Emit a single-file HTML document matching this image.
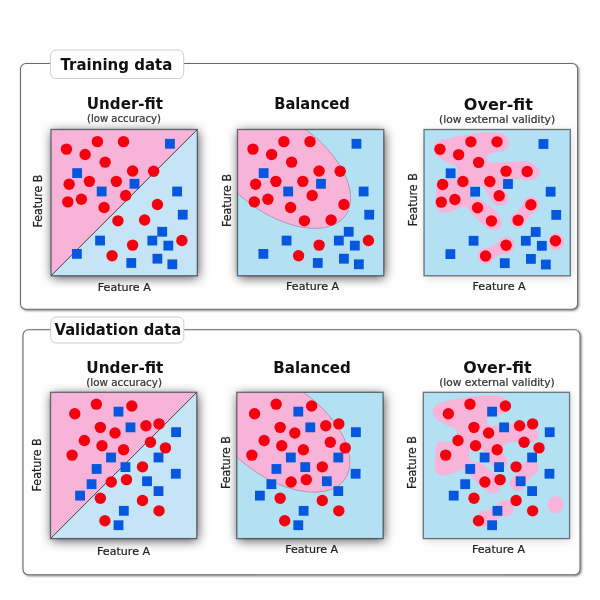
<!DOCTYPE html>
<html><head><meta charset="utf-8"><title>Under-fit, balanced, over-fit</title>
<style>
html,body{margin:0;padding:0;background:#fefefe;}
body{width:600px;height:600px;overflow:hidden;}
svg{display:block;font-family:'DejaVu Sans','Liberation Sans',sans-serif;filter:blur(0.45px);}
</style></head><body>
<svg width="600" height="600" viewBox="0 0 600 600">
<defs>
<filter id="sh" x="-30%" y="-30%" width="160%" height="160%"><feGaussianBlur in="SourceAlpha" stdDeviation="5.5"/><feOffset dx="0.5" dy="2"/><feComponentTransfer><feFuncA type="linear" slope="0.7"/></feComponentTransfer></filter>
<filter id="sh3" x="-30%" y="-30%" width="160%" height="160%"><feGaussianBlur in="SourceAlpha" stdDeviation="4.5"/><feOffset dx="0.5" dy="2"/><feComponentTransfer><feFuncA type="linear" slope="0.16"/></feComponentTransfer></filter>
<filter id="sh2" x="-5%" y="-5%" width="110%" height="110%"><feGaussianBlur in="SourceAlpha" stdDeviation="0.8"/><feOffset dx="0.8" dy="1"/><feComponentTransfer><feFuncA type="linear" slope="0.5"/></feComponentTransfer><feMerge><feMergeNode/><feMergeNode in="SourceGraphic"/></feMerge></filter>
<clipPath id="clipbox"><rect x="0" y="0" width="146.3" height="146.3"/></clipPath>
</defs>
<rect width="600" height="600" fill="#fefefe"/>
<rect x="20.5" y="63.5" width="557.1" height="245.7" rx="5.5" fill="#fefefe" stroke="#6a6a6a" stroke-width="1.1" filter="url(#sh2)"/>
<rect x="50.5" y="50" width="133.2" height="28.5" rx="5.5" fill="#fefefe" stroke="#cfcfcf" stroke-width="1"/>
<text x="116.4" y="70" font-size="15" font-weight="bold" text-anchor="middle" fill="#111" textLength="111.80000000000001" lengthAdjust="spacingAndGlyphs">Training data</text>
<g transform="translate(51,129.5)">
<rect x="0" y="0" width="146.3" height="146.3" fill="#c5e4f6" filter="url(#sh)"/>
<g clip-path="url(#clipbox)">
<rect x="0" y="0" width="146.3" height="146.3" fill="#c5e4f6"/>
<polygon points="0,0 146.3,0 0,146.3" fill="#f8b3d8"/>
<line x1="0" y1="146.3" x2="146.3" y2="0" stroke="#444" stroke-width="1"/>
<rect x="114.03" y="9.37" width="9.8" height="9.8" fill="#0557de"/>
<rect x="21.23" y="38.70" width="9.8" height="9.8" fill="#0557de"/>
<rect x="78.57" y="49.37" width="9.8" height="9.8" fill="#0557de"/>
<rect x="45.77" y="57.10" width="9.8" height="9.8" fill="#0557de"/>
<rect x="121.23" y="57.10" width="9.8" height="9.8" fill="#0557de"/>
<rect x="126.83" y="80.30" width="9.8" height="9.8" fill="#0557de"/>
<rect x="106.30" y="97.37" width="9.8" height="9.8" fill="#0557de"/>
<rect x="96.43" y="106.17" width="9.8" height="9.8" fill="#0557de"/>
<rect x="112.43" y="111.23" width="9.8" height="9.8" fill="#0557de"/>
<rect x="44.17" y="106.17" width="9.8" height="9.8" fill="#0557de"/>
<rect x="20.97" y="119.50" width="9.8" height="9.8" fill="#0557de"/>
<rect x="75.37" y="128.57" width="9.8" height="9.8" fill="#0557de"/>
<rect x="101.50" y="124.30" width="9.8" height="9.8" fill="#0557de"/>
<rect x="116.43" y="129.90" width="9.8" height="9.8" fill="#0557de"/>
<circle cx="15.47" cy="19.60" r="5.7" fill="#f5000f"/>
<circle cx="34.13" cy="24.93" r="5.7" fill="#f5000f"/>
<circle cx="46.40" cy="12.13" r="5.7" fill="#f5000f"/>
<circle cx="72.53" cy="12.13" r="5.7" fill="#f5000f"/>
<circle cx="54.13" cy="32.67" r="5.7" fill="#f5000f"/>
<circle cx="81.60" cy="41.47" r="5.7" fill="#f5000f"/>
<circle cx="102.67" cy="41.73" r="5.7" fill="#f5000f"/>
<circle cx="18.13" cy="54.80" r="5.7" fill="#f5000f"/>
<circle cx="38.40" cy="51.87" r="5.7" fill="#f5000f"/>
<circle cx="65.33" cy="51.87" r="5.7" fill="#f5000f"/>
<circle cx="74.67" cy="66.00" r="5.7" fill="#f5000f"/>
<circle cx="16.80" cy="72.40" r="5.7" fill="#f5000f"/>
<circle cx="30.40" cy="69.73" r="5.7" fill="#f5000f"/>
<circle cx="53.07" cy="78.00" r="5.7" fill="#f5000f"/>
<circle cx="106.40" cy="75.07" r="5.7" fill="#f5000f"/>
<circle cx="66.93" cy="91.33" r="5.7" fill="#f5000f"/>
<circle cx="93.60" cy="90.53" r="5.7" fill="#f5000f"/>
<circle cx="81.60" cy="115.60" r="5.7" fill="#f5000f"/>
<circle cx="61.07" cy="126.27" r="5.7" fill="#f5000f"/>
<circle cx="130.93" cy="111.07" r="5.7" fill="#f5000f"/>
</g>
<rect x="0" y="0" width="146.3" height="146.3" fill="none" stroke="#1e2a30" stroke-opacity="0.62" stroke-width="1.3"/>
</g>
<text x="124.3" y="291.2" font-size="11" font-weight="normal" text-anchor="middle" fill="#222" stroke="#222" stroke-width="0.22" textLength="53" lengthAdjust="spacingAndGlyphs">Feature A</text>
<text x="42.3" y="201.1" font-size="11.4" font-weight="normal" text-anchor="middle" fill="#222" stroke="#222" stroke-width="0.22" textLength="53" lengthAdjust="spacingAndGlyphs" transform="rotate(-90 42.3 201.1)">Feature B</text>
<g transform="translate(237.5,129.5)">
<rect x="0" y="0" width="146.3" height="146.3" fill="#b4e0f3" filter="url(#sh)"/>
<g clip-path="url(#clipbox)">
<rect x="0" y="0" width="146.3" height="146.3" fill="#b4e0f3"/>
<ellipse cx="0" cy="0" rx="83" ry="46.3" transform="translate(40.7,37.3) rotate(36.1)" fill="#f8b3d8" stroke="#b090a8" stroke-width="0.8"/>
<rect x="114.03" y="9.37" width="9.8" height="9.8" fill="#0557de"/>
<rect x="21.23" y="38.70" width="9.8" height="9.8" fill="#0557de"/>
<rect x="78.57" y="49.37" width="9.8" height="9.8" fill="#0557de"/>
<rect x="45.77" y="57.10" width="9.8" height="9.8" fill="#0557de"/>
<rect x="121.23" y="57.10" width="9.8" height="9.8" fill="#0557de"/>
<rect x="126.83" y="80.30" width="9.8" height="9.8" fill="#0557de"/>
<rect x="106.30" y="97.37" width="9.8" height="9.8" fill="#0557de"/>
<rect x="96.43" y="106.17" width="9.8" height="9.8" fill="#0557de"/>
<rect x="112.43" y="111.23" width="9.8" height="9.8" fill="#0557de"/>
<rect x="44.17" y="106.17" width="9.8" height="9.8" fill="#0557de"/>
<rect x="20.97" y="119.50" width="9.8" height="9.8" fill="#0557de"/>
<rect x="75.37" y="128.57" width="9.8" height="9.8" fill="#0557de"/>
<rect x="101.50" y="124.30" width="9.8" height="9.8" fill="#0557de"/>
<rect x="116.43" y="129.90" width="9.8" height="9.8" fill="#0557de"/>
<circle cx="15.47" cy="19.60" r="5.7" fill="#f5000f"/>
<circle cx="34.13" cy="24.93" r="5.7" fill="#f5000f"/>
<circle cx="46.40" cy="12.13" r="5.7" fill="#f5000f"/>
<circle cx="72.53" cy="12.13" r="5.7" fill="#f5000f"/>
<circle cx="54.13" cy="32.67" r="5.7" fill="#f5000f"/>
<circle cx="81.60" cy="41.47" r="5.7" fill="#f5000f"/>
<circle cx="102.67" cy="41.73" r="5.7" fill="#f5000f"/>
<circle cx="18.13" cy="54.80" r="5.7" fill="#f5000f"/>
<circle cx="38.40" cy="51.87" r="5.7" fill="#f5000f"/>
<circle cx="65.33" cy="51.87" r="5.7" fill="#f5000f"/>
<circle cx="74.67" cy="66.00" r="5.7" fill="#f5000f"/>
<circle cx="16.80" cy="72.40" r="5.7" fill="#f5000f"/>
<circle cx="30.40" cy="69.73" r="5.7" fill="#f5000f"/>
<circle cx="53.07" cy="78.00" r="5.7" fill="#f5000f"/>
<circle cx="106.40" cy="75.07" r="5.7" fill="#f5000f"/>
<circle cx="66.93" cy="91.33" r="5.7" fill="#f5000f"/>
<circle cx="93.60" cy="90.53" r="5.7" fill="#f5000f"/>
<circle cx="81.60" cy="115.60" r="5.7" fill="#f5000f"/>
<circle cx="61.07" cy="126.27" r="5.7" fill="#f5000f"/>
<circle cx="130.93" cy="111.07" r="5.7" fill="#f5000f"/>
</g>
<rect x="0" y="0" width="146.3" height="146.3" fill="none" stroke="#1e2a30" stroke-opacity="0.62" stroke-width="1.3"/>
</g>
<text x="312.6" y="289.7" font-size="11" font-weight="normal" text-anchor="middle" fill="#222" stroke="#222" stroke-width="0.22" textLength="53" lengthAdjust="spacingAndGlyphs">Feature A</text>
<text x="231.0" y="200.5" font-size="11.4" font-weight="normal" text-anchor="middle" fill="#222" stroke="#222" stroke-width="0.22" textLength="53" lengthAdjust="spacingAndGlyphs" transform="rotate(-90 231.0 200.5)">Feature B</text>
<g transform="translate(424,129.5)">
<rect x="0" y="0" width="146.3" height="146.3" fill="#b4e0f3" filter="url(#sh3)"/>
<g clip-path="url(#clipbox)">
<rect x="0" y="0" width="146.3" height="146.3" fill="#b4e0f3"/>
<g transform="translate(0.5,0.6)"><path d="M9.00,18.80 C8.72,16.58 9.55,14.52 11.00,13.00 C12.45,11.48 14.65,10.73 17.70,9.70 C20.75,8.67 25.42,7.63 29.30,6.80 C33.18,5.97 37.10,5.33 41.00,4.70 C44.90,4.07 48.53,3.37 52.70,3.00 C56.87,2.63 62.12,2.50 66.00,2.50 C69.88,2.50 73.37,2.37 76.00,3.00 C78.63,3.63 80.42,4.77 81.80,6.30 C83.18,7.83 84.15,10.25 84.30,12.20 C84.45,14.15 83.67,16.53 82.70,18.00 C81.73,19.47 80.45,20.30 78.50,21.00 C76.55,21.70 73.22,21.73 71.00,22.20 C68.78,22.67 66.65,22.97 65.20,23.80 C63.75,24.63 62.58,26.03 62.30,27.20 C62.02,28.37 62.60,29.92 63.50,30.80 C64.40,31.68 65.33,32.27 67.70,32.50 C70.07,32.73 74.10,32.40 77.70,32.20 C81.30,32.00 85.42,31.45 89.30,31.30 C93.18,31.15 97.67,30.88 101.00,31.30 C104.33,31.72 107.08,32.40 109.30,33.80 C111.52,35.20 113.47,37.88 114.30,39.70 C115.13,41.52 114.98,43.18 114.30,44.70 C113.62,46.22 112.13,47.88 110.20,48.80 C108.27,49.72 105.35,50.13 102.70,50.20 C100.05,50.27 96.53,49.43 94.30,49.20 C92.07,48.97 91.18,48.58 89.30,48.80 C87.42,49.02 84.72,49.63 83.00,50.50 C81.28,51.37 79.75,52.47 79.00,54.00 C78.25,55.53 78.17,58.33 78.50,59.70 C78.83,61.07 80.17,60.95 81.00,62.20 C81.83,63.45 83.22,65.53 83.50,67.20 C83.78,68.87 83.53,70.87 82.70,72.20 C81.87,73.53 80.17,74.65 78.50,75.20 C76.83,75.75 74.50,76.00 72.70,75.50 C70.90,75.00 69.10,73.87 67.70,72.20 C66.30,70.53 65.42,67.45 64.30,65.50 C63.18,63.55 61.88,61.88 61.00,60.50 C60.12,59.12 59.83,57.95 59.00,57.20 C58.17,56.45 57.50,56.23 56.00,56.00 C54.50,55.77 51.67,55.72 50.00,55.80 C48.33,55.88 46.75,55.55 46.00,56.50 C45.25,57.45 45.50,59.67 45.50,61.50 C45.50,63.33 45.08,66.28 46.00,67.50 C46.92,68.72 49.05,68.30 51.00,68.80 C52.95,69.30 55.48,69.38 57.70,70.50 C59.92,71.62 61.80,73.55 64.30,75.50 C66.80,77.45 70.62,79.98 72.70,82.20 C74.78,84.42 76.03,86.87 76.80,88.80 C77.57,90.73 77.72,92.13 77.30,93.80 C76.88,95.47 75.77,97.68 74.30,98.80 C72.83,99.92 70.43,100.63 68.50,100.50 C66.57,100.37 64.78,99.38 62.70,98.00 C60.62,96.62 57.95,94.00 56.00,92.20 C54.05,90.40 52.67,88.87 51.00,87.20 C49.33,85.53 47.53,83.73 46.00,82.20 C44.47,80.67 43.18,78.98 41.80,78.00 C40.42,77.02 39.50,76.02 37.70,76.30 C35.90,76.58 33.50,78.72 31.00,79.70 C28.50,80.68 25.20,81.78 22.70,82.20 C20.20,82.62 17.82,82.90 16.00,82.20 C14.18,81.50 12.63,79.67 11.80,78.00 C10.97,76.33 11.05,74.83 11.00,72.20 C10.95,69.57 11.28,65.27 11.50,62.20 C11.72,59.13 11.68,56.03 12.30,53.80 C12.92,51.57 13.75,49.68 15.20,48.80 C16.65,47.92 19.20,48.43 21.00,48.50 C22.80,48.57 24.20,49.15 26.00,49.20 C27.80,49.25 30.68,49.42 31.80,48.80 C32.92,48.18 32.50,47.17 32.70,45.50 C32.90,43.83 33.57,40.60 33.00,38.80 C32.43,37.00 31.30,35.95 29.30,34.70 C27.30,33.45 23.77,32.70 21.00,31.30 C18.23,29.90 14.70,28.38 12.70,26.30 C10.70,24.22 9.28,21.02 9.00,18.80Z" fill="#f8b3d8"/>
<circle cx="106.40" cy="74.67" r="8.0" fill="#f8b3d8"/><circle cx="93.60" cy="90.13" r="7.6" fill="#f8b3d8"/><path d="M106.40,74.67 L93.60,90.13" stroke="#f8b3d8" stroke-width="13" fill="none"/>
<circle cx="81.60" cy="115.20" r="8.4" fill="#f8b3d8"/><circle cx="61.07" cy="125.87" r="8.2" fill="#f8b3d8"/><path d="M81.60,115.20 L61.07,125.87" stroke="#f8b3d8" stroke-width="12" fill="none"/>
<ellipse cx="131.70" cy="111.70" rx="7.8" ry="8.7" fill="#f8b3d8"/></g>
<rect x="114.53" y="9.57" width="9.8" height="9.8" fill="#0557de"/>
<rect x="21.73" y="38.90" width="9.8" height="9.8" fill="#0557de"/>
<rect x="79.07" y="49.57" width="9.8" height="9.8" fill="#0557de"/>
<rect x="46.27" y="57.30" width="9.8" height="9.8" fill="#0557de"/>
<rect x="121.73" y="57.30" width="9.8" height="9.8" fill="#0557de"/>
<rect x="127.33" y="80.50" width="9.8" height="9.8" fill="#0557de"/>
<rect x="106.80" y="97.57" width="9.8" height="9.8" fill="#0557de"/>
<rect x="96.93" y="106.37" width="9.8" height="9.8" fill="#0557de"/>
<rect x="112.93" y="111.43" width="9.8" height="9.8" fill="#0557de"/>
<rect x="44.67" y="106.37" width="9.8" height="9.8" fill="#0557de"/>
<rect x="21.47" y="119.70" width="9.8" height="9.8" fill="#0557de"/>
<rect x="75.87" y="128.77" width="9.8" height="9.8" fill="#0557de"/>
<rect x="102.00" y="124.50" width="9.8" height="9.8" fill="#0557de"/>
<rect x="116.93" y="130.10" width="9.8" height="9.8" fill="#0557de"/>
<circle cx="15.97" cy="19.80" r="5.7" fill="#f5000f"/>
<circle cx="34.63" cy="25.13" r="5.7" fill="#f5000f"/>
<circle cx="46.90" cy="12.33" r="5.7" fill="#f5000f"/>
<circle cx="73.03" cy="12.33" r="5.7" fill="#f5000f"/>
<circle cx="54.63" cy="32.87" r="5.7" fill="#f5000f"/>
<circle cx="82.10" cy="41.67" r="5.7" fill="#f5000f"/>
<circle cx="103.17" cy="41.93" r="5.7" fill="#f5000f"/>
<circle cx="18.63" cy="55.00" r="5.7" fill="#f5000f"/>
<circle cx="38.90" cy="52.07" r="5.7" fill="#f5000f"/>
<circle cx="65.83" cy="52.07" r="5.7" fill="#f5000f"/>
<circle cx="75.17" cy="66.20" r="5.7" fill="#f5000f"/>
<circle cx="17.30" cy="72.60" r="5.7" fill="#f5000f"/>
<circle cx="30.90" cy="69.93" r="5.7" fill="#f5000f"/>
<circle cx="53.57" cy="78.20" r="5.7" fill="#f5000f"/>
<circle cx="106.90" cy="75.27" r="5.7" fill="#f5000f"/>
<circle cx="67.43" cy="91.53" r="5.7" fill="#f5000f"/>
<circle cx="94.10" cy="90.73" r="5.7" fill="#f5000f"/>
<circle cx="82.10" cy="115.80" r="5.7" fill="#f5000f"/>
<circle cx="61.57" cy="126.47" r="5.7" fill="#f5000f"/>
<circle cx="131.43" cy="111.27" r="5.7" fill="#f5000f"/>
</g>
<rect x="0" y="0" width="146.3" height="146.3" fill="none" stroke="#1e2a30" stroke-opacity="0.62" stroke-width="1.3"/>
</g>
<text x="499.1" y="290.0" font-size="11" font-weight="normal" text-anchor="middle" fill="#222" stroke="#222" stroke-width="0.22" textLength="53" lengthAdjust="spacingAndGlyphs">Feature A</text>
<text x="417.3" y="199.7" font-size="11.4" font-weight="normal" text-anchor="middle" fill="#222" stroke="#222" stroke-width="0.22" textLength="53" lengthAdjust="spacingAndGlyphs" transform="rotate(-90 417.3 199.7)">Feature B</text>
<text x="124.95" y="109.4" font-size="15" font-weight="bold" text-anchor="middle" fill="#111" textLength="76.2" lengthAdjust="spacingAndGlyphs">Under-fit</text>
<text x="123.95" y="122.0" font-size="10" font-weight="normal" text-anchor="middle" fill="#333" stroke="#333" stroke-width="0.22" textLength="74" lengthAdjust="spacingAndGlyphs">(low accuracy)</text>
<text x="312.04999999999995" y="108.9" font-size="15" font-weight="bold" text-anchor="middle" fill="#111" textLength="75.5" lengthAdjust="spacingAndGlyphs">Balanced</text>
<text x="498.34999999999997" y="110.2" font-size="15" font-weight="bold" text-anchor="middle" fill="#111" textLength="69" lengthAdjust="spacingAndGlyphs">Over-fit</text>
<text x="497.04999999999995" y="122.9" font-size="10" font-weight="normal" text-anchor="middle" fill="#333" stroke="#333" stroke-width="0.22" textLength="116" lengthAdjust="spacingAndGlyphs">(low external validity)</text>
<rect x="23" y="329.7" width="557" height="245.00000000000006" rx="5.5" fill="#fefefe" stroke="#6a6a6a" stroke-width="1.1" filter="url(#sh2)"/>
<rect x="50.7" y="317" width="133.10000000000002" height="26" rx="5.5" fill="#fefefe" stroke="#cfcfcf" stroke-width="1"/>
<text x="117.9" y="335" font-size="15" font-weight="bold" text-anchor="middle" fill="#111" textLength="126.80000000000001" lengthAdjust="spacingAndGlyphs">Validation data</text>
<g transform="translate(50.5,392.3)">
<rect x="0" y="0" width="146.3" height="146.3" fill="#c5e4f6" filter="url(#sh)"/>
<g clip-path="url(#clipbox)">
<rect x="0" y="0" width="146.3" height="146.3" fill="#c5e4f6"/>
<polygon points="0,0 146.3,0 0,146.3" fill="#f8b3d8"/>
<line x1="0" y1="146.3" x2="146.3" y2="0" stroke="#444" stroke-width="1"/>
<rect x="63.10" y="14.43" width="9.8" height="9.8" fill="#0557de"/>
<rect x="75.10" y="30.17" width="9.8" height="9.8" fill="#0557de"/>
<rect x="120.70" y="34.97" width="9.8" height="9.8" fill="#0557de"/>
<rect x="55.63" y="60.30" width="9.8" height="9.8" fill="#0557de"/>
<rect x="103.10" y="60.30" width="9.8" height="9.8" fill="#0557de"/>
<rect x="41.23" y="71.77" width="9.8" height="9.8" fill="#0557de"/>
<rect x="70.03" y="69.90" width="9.8" height="9.8" fill="#0557de"/>
<rect x="120.43" y="76.57" width="9.8" height="9.8" fill="#0557de"/>
<rect x="36.17" y="86.97" width="9.8" height="9.8" fill="#0557de"/>
<rect x="91.63" y="84.03" width="9.8" height="9.8" fill="#0557de"/>
<rect x="103.10" y="93.90" width="9.8" height="9.8" fill="#0557de"/>
<rect x="24.70" y="98.43" width="9.8" height="9.8" fill="#0557de"/>
<rect x="68.43" y="113.63" width="9.8" height="9.8" fill="#0557de"/>
<rect x="63.10" y="128.03" width="9.8" height="9.8" fill="#0557de"/>
<circle cx="24.27" cy="21.47" r="5.7" fill="#f5000f"/>
<circle cx="45.87" cy="11.87" r="5.7" fill="#f5000f"/>
<circle cx="81.33" cy="13.73" r="5.7" fill="#f5000f"/>
<circle cx="49.87" cy="35.07" r="5.7" fill="#f5000f"/>
<circle cx="64.53" cy="40.67" r="5.7" fill="#f5000f"/>
<circle cx="95.47" cy="33.47" r="5.7" fill="#f5000f"/>
<circle cx="108.53" cy="31.60" r="5.7" fill="#f5000f"/>
<circle cx="33.87" cy="48.13" r="5.7" fill="#f5000f"/>
<circle cx="51.47" cy="53.47" r="5.7" fill="#f5000f"/>
<circle cx="73.07" cy="57.47" r="5.7" fill="#f5000f"/>
<circle cx="100.00" cy="50.00" r="5.7" fill="#f5000f"/>
<circle cx="114.93" cy="55.60" r="5.7" fill="#f5000f"/>
<circle cx="21.60" cy="62.80" r="5.7" fill="#f5000f"/>
<circle cx="92.00" cy="74.53" r="5.7" fill="#f5000f"/>
<circle cx="60.80" cy="89.73" r="5.7" fill="#f5000f"/>
<circle cx="76.00" cy="87.33" r="5.7" fill="#f5000f"/>
<circle cx="49.87" cy="106.00" r="5.7" fill="#f5000f"/>
<circle cx="92.00" cy="108.13" r="5.7" fill="#f5000f"/>
<circle cx="108.53" cy="118.53" r="5.7" fill="#f5000f"/>
<circle cx="54.40" cy="128.40" r="5.7" fill="#f5000f"/>
</g>
<rect x="0" y="0" width="146.3" height="146.3" fill="none" stroke="#1e2a30" stroke-opacity="0.62" stroke-width="1.3"/>
</g>
<text x="123.6" y="554.8" font-size="11" font-weight="normal" text-anchor="middle" fill="#222" stroke="#222" stroke-width="0.22" textLength="53" lengthAdjust="spacingAndGlyphs">Feature A</text>
<text x="41.1" y="464.9" font-size="11.4" font-weight="normal" text-anchor="middle" fill="#222" stroke="#222" stroke-width="0.22" textLength="53" lengthAdjust="spacingAndGlyphs" transform="rotate(-90 41.1 464.9)">Feature B</text>
<g transform="translate(236.8,392.3)">
<rect x="0" y="0" width="146.3" height="146.3" fill="#b4e0f3" filter="url(#sh)"/>
<g clip-path="url(#clipbox)">
<rect x="0" y="0" width="146.3" height="146.3" fill="#b4e0f3"/>
<ellipse cx="0" cy="0" rx="83" ry="46.3" transform="translate(40.7,38.3) rotate(36.1)" fill="#f8b3d8" stroke="#b090a8" stroke-width="0.8"/>
<rect x="56.60" y="14.43" width="9.8" height="9.8" fill="#0557de"/>
<rect x="68.60" y="30.17" width="9.8" height="9.8" fill="#0557de"/>
<rect x="114.20" y="34.97" width="9.8" height="9.8" fill="#0557de"/>
<rect x="49.13" y="60.30" width="9.8" height="9.8" fill="#0557de"/>
<rect x="96.60" y="60.30" width="9.8" height="9.8" fill="#0557de"/>
<rect x="34.73" y="71.77" width="9.8" height="9.8" fill="#0557de"/>
<rect x="63.53" y="69.90" width="9.8" height="9.8" fill="#0557de"/>
<rect x="113.93" y="76.57" width="9.8" height="9.8" fill="#0557de"/>
<rect x="29.67" y="86.97" width="9.8" height="9.8" fill="#0557de"/>
<rect x="85.13" y="84.03" width="9.8" height="9.8" fill="#0557de"/>
<rect x="96.60" y="93.90" width="9.8" height="9.8" fill="#0557de"/>
<rect x="18.20" y="98.43" width="9.8" height="9.8" fill="#0557de"/>
<rect x="61.93" y="113.63" width="9.8" height="9.8" fill="#0557de"/>
<rect x="56.60" y="128.03" width="9.8" height="9.8" fill="#0557de"/>
<circle cx="17.77" cy="21.47" r="5.7" fill="#f5000f"/>
<circle cx="39.37" cy="11.87" r="5.7" fill="#f5000f"/>
<circle cx="74.83" cy="13.73" r="5.7" fill="#f5000f"/>
<circle cx="43.37" cy="35.07" r="5.7" fill="#f5000f"/>
<circle cx="58.03" cy="40.67" r="5.7" fill="#f5000f"/>
<circle cx="88.97" cy="33.47" r="5.7" fill="#f5000f"/>
<circle cx="102.03" cy="31.60" r="5.7" fill="#f5000f"/>
<circle cx="27.37" cy="48.13" r="5.7" fill="#f5000f"/>
<circle cx="44.97" cy="53.47" r="5.7" fill="#f5000f"/>
<circle cx="66.57" cy="57.47" r="5.7" fill="#f5000f"/>
<circle cx="93.50" cy="50.00" r="5.7" fill="#f5000f"/>
<circle cx="108.43" cy="55.60" r="5.7" fill="#f5000f"/>
<circle cx="15.10" cy="62.80" r="5.7" fill="#f5000f"/>
<circle cx="85.50" cy="74.53" r="5.7" fill="#f5000f"/>
<circle cx="54.30" cy="89.73" r="5.7" fill="#f5000f"/>
<circle cx="69.50" cy="87.33" r="5.7" fill="#f5000f"/>
<circle cx="43.37" cy="106.00" r="5.7" fill="#f5000f"/>
<circle cx="85.50" cy="108.13" r="5.7" fill="#f5000f"/>
<circle cx="102.03" cy="118.53" r="5.7" fill="#f5000f"/>
<circle cx="47.90" cy="128.40" r="5.7" fill="#f5000f"/>
</g>
<rect x="0" y="0" width="146.3" height="146.3" fill="none" stroke="#1e2a30" stroke-opacity="0.62" stroke-width="1.3"/>
</g>
<text x="311.7" y="552.85" font-size="11" font-weight="normal" text-anchor="middle" fill="#222" stroke="#222" stroke-width="0.22" textLength="53" lengthAdjust="spacingAndGlyphs">Feature A</text>
<text x="230.1" y="462.6" font-size="11.4" font-weight="normal" text-anchor="middle" fill="#222" stroke="#222" stroke-width="0.22" textLength="53" lengthAdjust="spacingAndGlyphs" transform="rotate(-90 230.1 462.6)">Feature B</text>
<g transform="translate(423.3,392.3)">
<rect x="0" y="0" width="146.3" height="146.3" fill="#b4e0f3" filter="url(#sh3)"/>
<g clip-path="url(#clipbox)">
<rect x="0" y="0" width="146.3" height="146.3" fill="#b4e0f3"/>
<g transform="translate(0.5,0.6)"><path d="M9.00,18.80 C8.72,16.58 9.55,14.52 11.00,13.00 C12.45,11.48 14.65,10.73 17.70,9.70 C20.75,8.67 25.42,7.63 29.30,6.80 C33.18,5.97 37.10,5.33 41.00,4.70 C44.90,4.07 48.53,3.37 52.70,3.00 C56.87,2.63 62.12,2.50 66.00,2.50 C69.88,2.50 73.37,2.37 76.00,3.00 C78.63,3.63 80.42,4.77 81.80,6.30 C83.18,7.83 84.15,10.25 84.30,12.20 C84.45,14.15 83.67,16.53 82.70,18.00 C81.73,19.47 80.45,20.30 78.50,21.00 C76.55,21.70 73.22,21.73 71.00,22.20 C68.78,22.67 66.65,22.97 65.20,23.80 C63.75,24.63 62.58,26.03 62.30,27.20 C62.02,28.37 62.60,29.92 63.50,30.80 C64.40,31.68 65.33,32.27 67.70,32.50 C70.07,32.73 74.10,32.40 77.70,32.20 C81.30,32.00 85.42,31.45 89.30,31.30 C93.18,31.15 97.67,30.88 101.00,31.30 C104.33,31.72 107.08,32.40 109.30,33.80 C111.52,35.20 113.47,37.88 114.30,39.70 C115.13,41.52 114.98,43.18 114.30,44.70 C113.62,46.22 112.13,47.88 110.20,48.80 C108.27,49.72 105.35,50.13 102.70,50.20 C100.05,50.27 96.53,49.43 94.30,49.20 C92.07,48.97 91.18,48.58 89.30,48.80 C87.42,49.02 84.72,49.63 83.00,50.50 C81.28,51.37 79.75,52.47 79.00,54.00 C78.25,55.53 78.17,58.33 78.50,59.70 C78.83,61.07 80.17,60.95 81.00,62.20 C81.83,63.45 83.22,65.53 83.50,67.20 C83.78,68.87 83.53,70.87 82.70,72.20 C81.87,73.53 80.17,74.65 78.50,75.20 C76.83,75.75 74.50,76.00 72.70,75.50 C70.90,75.00 69.10,73.87 67.70,72.20 C66.30,70.53 65.42,67.45 64.30,65.50 C63.18,63.55 61.88,61.88 61.00,60.50 C60.12,59.12 59.83,57.95 59.00,57.20 C58.17,56.45 57.50,56.23 56.00,56.00 C54.50,55.77 51.67,55.72 50.00,55.80 C48.33,55.88 46.75,55.55 46.00,56.50 C45.25,57.45 45.50,59.67 45.50,61.50 C45.50,63.33 45.08,66.28 46.00,67.50 C46.92,68.72 49.05,68.30 51.00,68.80 C52.95,69.30 55.48,69.38 57.70,70.50 C59.92,71.62 61.80,73.55 64.30,75.50 C66.80,77.45 70.62,79.98 72.70,82.20 C74.78,84.42 76.03,86.87 76.80,88.80 C77.57,90.73 77.72,92.13 77.30,93.80 C76.88,95.47 75.77,97.68 74.30,98.80 C72.83,99.92 70.43,100.63 68.50,100.50 C66.57,100.37 64.78,99.38 62.70,98.00 C60.62,96.62 57.95,94.00 56.00,92.20 C54.05,90.40 52.67,88.87 51.00,87.20 C49.33,85.53 47.53,83.73 46.00,82.20 C44.47,80.67 43.18,78.98 41.80,78.00 C40.42,77.02 39.50,76.02 37.70,76.30 C35.90,76.58 33.50,78.72 31.00,79.70 C28.50,80.68 25.20,81.78 22.70,82.20 C20.20,82.62 17.82,82.90 16.00,82.20 C14.18,81.50 12.63,79.67 11.80,78.00 C10.97,76.33 11.05,74.83 11.00,72.20 C10.95,69.57 11.28,65.27 11.50,62.20 C11.72,59.13 11.68,56.03 12.30,53.80 C12.92,51.57 13.75,49.68 15.20,48.80 C16.65,47.92 19.20,48.43 21.00,48.50 C22.80,48.57 24.20,49.15 26.00,49.20 C27.80,49.25 30.68,49.42 31.80,48.80 C32.92,48.18 32.50,47.17 32.70,45.50 C32.90,43.83 33.57,40.60 33.00,38.80 C32.43,37.00 31.30,35.95 29.30,34.70 C27.30,33.45 23.77,32.70 21.00,31.30 C18.23,29.90 14.70,28.38 12.70,26.30 C10.70,24.22 9.28,21.02 9.00,18.80Z" fill="#f8b3d8"/>
<circle cx="106.40" cy="74.67" r="8.0" fill="#f8b3d8"/><circle cx="93.60" cy="90.13" r="7.6" fill="#f8b3d8"/><path d="M106.40,74.67 L93.60,90.13" stroke="#f8b3d8" stroke-width="13" fill="none"/>
<circle cx="81.60" cy="115.20" r="8.4" fill="#f8b3d8"/><circle cx="61.07" cy="125.87" r="8.2" fill="#f8b3d8"/><path d="M81.60,115.20 L61.07,125.87" stroke="#f8b3d8" stroke-width="12" fill="none"/>
<ellipse cx="131.70" cy="111.70" rx="7.8" ry="8.7" fill="#f8b3d8"/></g>
<rect x="63.90" y="14.43" width="9.8" height="9.8" fill="#0557de"/>
<rect x="75.90" y="30.17" width="9.8" height="9.8" fill="#0557de"/>
<rect x="121.50" y="34.97" width="9.8" height="9.8" fill="#0557de"/>
<rect x="56.43" y="60.30" width="9.8" height="9.8" fill="#0557de"/>
<rect x="103.90" y="60.30" width="9.8" height="9.8" fill="#0557de"/>
<rect x="42.03" y="71.77" width="9.8" height="9.8" fill="#0557de"/>
<rect x="70.83" y="69.90" width="9.8" height="9.8" fill="#0557de"/>
<rect x="121.23" y="76.57" width="9.8" height="9.8" fill="#0557de"/>
<rect x="36.97" y="86.97" width="9.8" height="9.8" fill="#0557de"/>
<rect x="92.43" y="84.03" width="9.8" height="9.8" fill="#0557de"/>
<rect x="103.90" y="93.90" width="9.8" height="9.8" fill="#0557de"/>
<rect x="25.50" y="98.43" width="9.8" height="9.8" fill="#0557de"/>
<rect x="69.23" y="113.63" width="9.8" height="9.8" fill="#0557de"/>
<rect x="63.90" y="128.03" width="9.8" height="9.8" fill="#0557de"/>
<circle cx="25.07" cy="21.47" r="5.7" fill="#f5000f"/>
<circle cx="46.67" cy="11.87" r="5.7" fill="#f5000f"/>
<circle cx="82.13" cy="13.73" r="5.7" fill="#f5000f"/>
<circle cx="50.67" cy="35.07" r="5.7" fill="#f5000f"/>
<circle cx="65.33" cy="40.67" r="5.7" fill="#f5000f"/>
<circle cx="96.27" cy="33.47" r="5.7" fill="#f5000f"/>
<circle cx="109.33" cy="31.60" r="5.7" fill="#f5000f"/>
<circle cx="34.67" cy="48.13" r="5.7" fill="#f5000f"/>
<circle cx="52.27" cy="53.47" r="5.7" fill="#f5000f"/>
<circle cx="73.87" cy="57.47" r="5.7" fill="#f5000f"/>
<circle cx="100.80" cy="50.00" r="5.7" fill="#f5000f"/>
<circle cx="115.73" cy="55.60" r="5.7" fill="#f5000f"/>
<circle cx="22.40" cy="62.80" r="5.7" fill="#f5000f"/>
<circle cx="92.80" cy="74.53" r="5.7" fill="#f5000f"/>
<circle cx="61.60" cy="89.73" r="5.7" fill="#f5000f"/>
<circle cx="76.80" cy="87.33" r="5.7" fill="#f5000f"/>
<circle cx="50.67" cy="106.00" r="5.7" fill="#f5000f"/>
<circle cx="92.80" cy="108.13" r="5.7" fill="#f5000f"/>
<circle cx="109.33" cy="118.53" r="5.7" fill="#f5000f"/>
<circle cx="55.20" cy="128.40" r="5.7" fill="#f5000f"/>
</g>
<rect x="0" y="0" width="146.3" height="146.3" fill="none" stroke="#1e2a30" stroke-opacity="0.62" stroke-width="1.3"/>
</g>
<text x="498.5" y="552.55" font-size="11" font-weight="normal" text-anchor="middle" fill="#222" stroke="#222" stroke-width="0.22" textLength="53" lengthAdjust="spacingAndGlyphs">Feature A</text>
<text x="416.3" y="462.6" font-size="11.4" font-weight="normal" text-anchor="middle" fill="#222" stroke="#222" stroke-width="0.22" textLength="53" lengthAdjust="spacingAndGlyphs" transform="rotate(-90 416.3 462.6)">Feature B</text>
<text x="124.85000000000001" y="373.1" font-size="15" font-weight="bold" text-anchor="middle" fill="#111" textLength="77" lengthAdjust="spacingAndGlyphs">Under-fit</text>
<text x="124.15" y="385.8" font-size="10" font-weight="normal" text-anchor="middle" fill="#333" stroke="#333" stroke-width="0.22" textLength="75.6" lengthAdjust="spacingAndGlyphs">(low accuracy)</text>
<text x="312.05000000000007" y="373.1" font-size="15" font-weight="bold" text-anchor="middle" fill="#111" textLength="77.5" lengthAdjust="spacingAndGlyphs">Balanced</text>
<text x="497.45000000000005" y="373.0" font-size="15" font-weight="bold" text-anchor="middle" fill="#111" textLength="68.4" lengthAdjust="spacingAndGlyphs">Over-fit</text>
<text x="496.95000000000005" y="385.7" font-size="10" font-weight="normal" text-anchor="middle" fill="#333" stroke="#333" stroke-width="0.22" textLength="115.5" lengthAdjust="spacingAndGlyphs">(low external validity)</text>
</svg>
</body></html>
